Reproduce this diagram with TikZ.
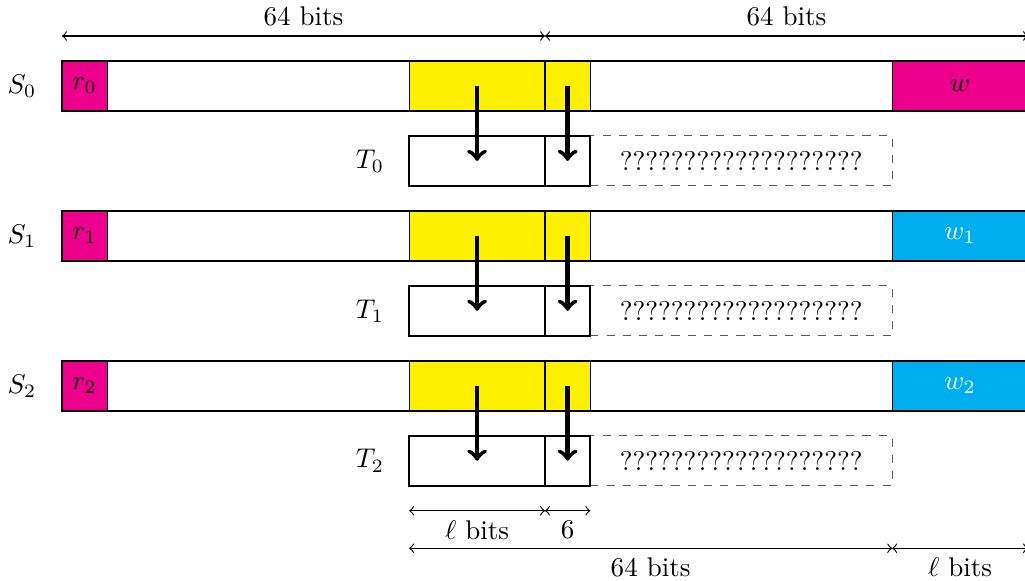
\documentclass[tikz,border=0pt]{standalone}
\usepackage{tikz}
\definecolor{rmag}{RGB}{236,0,140}
\definecolor{wcyan}{RGB}{0,174,239}
\definecolor{fyel}{RGB}{255,240,0}
\begin{document}
\begin{tikzpicture}[x=0.098cm,y=0.649cm]
    \def\u{0.098cm}
    \def\h{0.649cm}
    \tikzset{
      field/.style={draw,thin,inner sep=0pt,outer sep=0pt,minimum height=\h},
      dim/.style={<->,thin},
      move/.style={->,line width=1.6pt},
    }
    \useasboundingbox (-8.215,1.22) rectangle (127.6,-10.4);
    \coordinate (D0) at (0,0.5);
    \coordinate (D1) at (64,0.5);
    \coordinate (D2) at (128,0.5);
    \path (D0) edge [dim] node [above] {64 bits} (D1);
    \path (D1) edge [dim] node [above] {64 bits} (D2);
    \foreach \i/\r/\w/\c/\t in {0/r_0/w/rmag/black,1/r_1/w_1/wcyan/white,2/r_2/w_2/wcyan/white}{
      \node (S\i) at (-5.3,-3*\i-0.5) {$S_\i$};
      \node [field,fill=rmag,minimum width=6*\u] (R\i) at (3,-3*\i-0.5) {$\r$};
      \node [field,fill=fyel,minimum width=18*\u] (A\i) at (55,-3*\i-0.5) {};
      \node [field,fill=fyel,minimum width=6*\u] (B\i) at (67,-3*\i-0.5) {};
      \node [field,fill=\c,text=\t,minimum width=18*\u] (W\i) at (119,-3*\i-0.5) {$\w$};
      \draw [thick] (0,-3*\i) rectangle (128,-3*\i-1);
      \draw [thick] (64,-3*\i) -- (64,-3*\i-1);
      \node (T\i) at (40.8,-3*\i-2) {$T_\i$};
      \node [field,dashed,black!65,text=black,minimum width=40*\u] (Q\i) at (90,-3*\i-2) {???????????????????};
      \node [field,minimum width=18*\u] (TA\i) at (55,-3*\i-2) {};
      \node [inner sep=0pt,outer sep=0pt,minimum width=6*\u,minimum height=\h] (TB\i) at (67,-3*\i-2) {};
      \draw [thick] (46,-3*\i-1.5) rectangle (70,-3*\i-2.5);
      \draw [move] (A\i.center) -- (TA\i.center);
      \draw [move] (B\i.center) -- (TB\i.center);
    }
    \coordinate (E0) at (46,-9);
    \coordinate (E1) at (64,-9);
    \coordinate (E2) at (70,-9);
    \coordinate (F0) at (46,-9.75);
    \coordinate (F1) at (110,-9.75);
    \coordinate (F2) at (128,-9.75);
    \path (E0) edge [dim] node [below] {$\ell$ bits} (E1);
    \path (E1) edge [dim] node [below] {6} (E2);
    \path (F0) edge [dim] node [below] {64 bits} (F1);
    \path (F1) edge [dim] node [below] {$\ell$ bits} (F2);
  \end{tikzpicture}
\end{document}
